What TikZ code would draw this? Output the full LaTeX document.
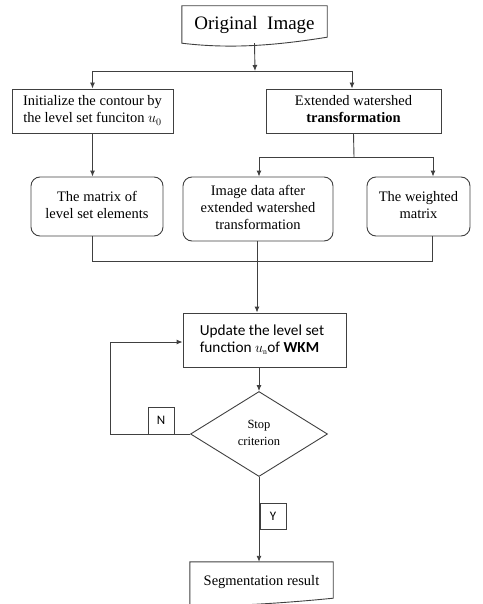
\documentclass[tikz,border=0pt]{standalone}
\usepackage{fontspec}
\setmainfont{Liberation Serif}[BoldFont={Liberation Serif Bold},ItalicFont={Liberation Serif Italic}]
\newfontfamily\calfont{Carlito}
\usetikzlibrary{arrows.meta,shapes.geometric,calc}
\begin{document}
\begin{tikzpicture}[x=1pt,y=-1pt,
  line/.style={draw=black!75,line width=0.9pt},
  arr/.style={line,-{Latex[length=6pt,width=5pt]}},
  boxs/.style={draw=black!75,line width=0.9pt,inner sep=0pt,align=center,font=\fontsize{14.5}{17}\selectfont},
  rbox/.style={boxs,rounded corners=9pt},
  docn/.style={inner sep=0pt,align=center},
  lab/.style={draw=black!75,line width=0.9pt,fill=white,inner sep=0pt,font=\calfont\fontsize{13}{15}\selectfont}]
\useasboundingbox (0,0) rectangle (482,604);
% Original image (document shape)
\node[docn,minimum width=145,minimum height=37,font=\fontsize{19}{21}\selectfont] (orig) at (254.5,24.5) {\raisebox{3pt}{Original\ \ Image}};
\draw[line] (orig.north west) -- (orig.south west) .. controls +(50,6) and +(-50,8) .. ($(orig.south east)+(0,-6)$) -- (orig.north east) -- cycle;
% level 1
\node[boxs,minimum width=161,minimum height=44] (init) at (92.5,111) {\raisebox{-1pt}{\begin{tabular}{@{}c@{}}Initialize the contour by\\the level set funciton $u_{\scriptstyle 0}$\end{tabular}}};
\node[boxs,minimum width=175,minimum height=44] (ext) at (353.5,111) {\raisebox{-1pt}{\begin{tabular}{@{}c@{}}Extended watershed\\\textbf{transformation}\end{tabular}}};
% level 2
\node[rbox,minimum width=132,minimum height=59] (mat) at (97,206.5) {\raisebox{5pt}{\begin{tabular}{@{}c@{}}The matrix of\\level set elements\end{tabular}}};
\node[rbox,minimum width=150,minimum height=64] (img) at (258,209) {\raisebox{-1pt}{\begin{tabular}{@{}c@{}}Image data after\\extended watershed\\transformation\end{tabular}}};
\node[rbox,minimum width=103,minimum height=59] (wgt) at (418.5,206.5) {\raisebox{5pt}{\begin{tabular}{@{}c@{}}The weighted\\matrix\end{tabular}}};
% update
\node[boxs,minimum width=163,minimum height=54,align=left,font=\calfont\fontsize{15.3}{17}\selectfont] (upd) at (264.5,340) {Update the level set\\function $u_{\scriptscriptstyle\mathrm{n}}$of \textbf{WKM}\hspace*{10pt}};
% decision
\node[draw=black!75,line width=0.9pt,shape=diamond,inner sep=0pt,minimum width=137,minimum height=85,align=center,font=\fontsize{12.5}{17}\selectfont] (stop) at (259,434) {\raisebox{1pt}{\begin{tabular}{@{}c@{}}Stop\\criterion\end{tabular}}};
% result
\node[docn,minimum width=143,minimum height=44,font=\fontsize{14.5}{16}\selectfont] (seg) at (261.5,584) {\raisebox{7pt}{Segmentation result}};
\draw[line] (seg.north west) -- (seg.south west) .. controls +(50,0) and +(-40,4) .. ($(seg.south east)+(0,-8)$) -- (seg.north east) -- cycle;
% connectors
\coordinate (j1) at (255,71);
\coordinate (j1l) at (92.5,71);
\coordinate (j1r) at (352,71);
\draw[arr] (orig.south) -- (j1);
\draw[line] (j1l) -- (j1r);
\draw[arr] (j1l) -- (init.north);
\draw[arr] (j1r) -- (j1r |- ext.north);
\draw[arr] (init.south) -- (init.south |- mat.north);
\coordinate (j2) at (354,157);
\coordinate (j2l) at (259,157);
\coordinate (j2r) at (433,157);
\draw[line] (ext.south) -- (j2);
\draw[line] (j2l) -- (j2r);
\draw[arr] (j2l) -- (j2l |- img.north);
\draw[arr] (j2r) -- (j2r |- wgt.north);
\coordinate (j3l) at (92.5,261);
\coordinate (j3r) at (432,261);
\draw[line] (init.south |- mat.south) -- (j3l) -- (j3r) -- (j3r |- wgt.south);
\draw[arr] ($(img.south)+(-1,0)$) -- ($(img.south |- upd.north)+(-1,0)$);
\draw[arr] (stop.north |- upd.south) -- (stop.north);
\draw[arr] (stop.west) -- ++(-80,0) |- ($(upd.west)+(0,2)$);
\draw[arr] (stop.south) -- (stop.south |- seg.north);
\node[lab,minimum width=26,minimum height=27] (N) at (161,420.5) {N};
\node[lab,minimum width=26,minimum height=26] (Y) at (273,516) {Y};
\end{tikzpicture}
\end{document}
